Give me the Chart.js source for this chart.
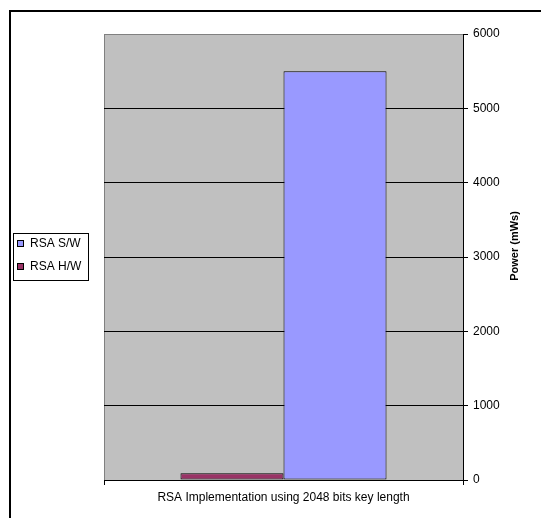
<!DOCTYPE html>
<html lang="en">
<head>
  <meta charset="utf-8">
  <title>RSA Power</title>
  <script src="https://cdn.jsdelivr.net/npm/chart.js@4.4.1/dist/chart.umd.min.js"></script>
  <style>
    html, body { margin: 0; padding: 0; background: #fff; }
    #wrap { width: 541px; height: 518px; }
  </style>
</head>
<body>
  <div id="wrap"><canvas id="powerChart" width="541" height="518"></canvas></div>
<script>
  const categories = ['RSA Implementation using 2048 bits key length'];
  const seriesNames = ['RSA H/W', 'RSA S/W'];
  const hwValues = [90];
  const swValues = [5500];
  const yTicks = [0, 1000, 2000, 3000, 4000, 5000, 6000];
  const yTitle = 'Power (mWs)';

  const FONT = "'Liberation Sans', Arial, sans-serif";

  // page frame, plot background
  const backdrop = {
    id: 'backdrop',
    beforeDraw(chart) {
      const ctx = chart.ctx;
      const a = chart.chartArea;
      ctx.save();
      ctx.fillStyle = '#fff';
      ctx.fillRect(0, 0, chart.width, chart.height);
      ctx.strokeStyle = '#000';
      ctx.lineWidth = 2;
      ctx.beginPath();
      ctx.moveTo(10, chart.height);
      ctx.lineTo(10, 11);
      ctx.lineTo(chart.width, 11);
      ctx.stroke();
      ctx.fillStyle = '#C0C0C0';
      ctx.fillRect(a.left, a.top, a.right - a.left, a.bottom - a.top);
      ctx.strokeStyle = '#808080';
      ctx.lineWidth = 1;
      ctx.beginPath();
      ctx.moveTo(a.left + 0.5, a.bottom);
      ctx.lineTo(a.left + 0.5, a.top + 0.5);
      ctx.lineTo(a.right, a.top + 0.5);
      ctx.stroke();
      ctx.restore();
    }
  };

  // boxed legend on the left, reversed like Excel
  const boxLegend = {
    id: 'boxLegend',
    afterDraw(chart) {
      const ctx = chart.ctx;
      const ds = chart.data.datasets;
      ctx.save();
      ctx.fillStyle = '#fff';
      ctx.fillRect(13.5, 233.5, 75, 47);
      ctx.strokeStyle = '#000';
      ctx.lineWidth = 1;
      ctx.strokeRect(13.5, 233.5, 75, 47);
      ctx.font = '12px ' + FONT;
      ctx.textBaseline = 'middle';
      ctx.textAlign = 'left';
      for (let i = ds.length - 1, row = 0; i >= 0; i--, row++) {
        const y = 240 + row * 23;
        ctx.fillStyle = ds[i].backgroundColor;
        ctx.fillRect(17.5, y + 0.5, 6, 6);
        ctx.strokeStyle = '#000';
        ctx.strokeRect(17.5, y + 0.5, 6, 6);
        ctx.fillStyle = '#000';
        ctx.fillText(ds[i].label, 30, y + 4);
      }
      ctx.restore();
    }
  };

  // y title reads bottom to top on the right axis
  const rightTitle = {
    id: 'rightTitle',
    afterDraw(chart) {
      const ctx = chart.ctx;
      const y = chart.scales.y;
      ctx.save();
      ctx.translate(y.right - 26, (chart.chartArea.top + chart.chartArea.bottom) / 2 - 11);
      ctx.rotate(-Math.PI / 2);
      ctx.font = 'bold 11px ' + FONT;
      ctx.fillStyle = '#000';
      ctx.textAlign = 'center';
      ctx.textBaseline = 'middle';
      ctx.fillText(yTitle, 0, 0);
      ctx.restore();
    }
  };

  const data = {
    labels: categories,
    datasets: [{
      label: seriesNames[0],
      data: hwValues,
      backgroundColor: '#993366',
      borderColor: '#000',
      borderWidth: 1,
      borderSkipped: false
    }, {
      label: seriesNames[1],
      data: swValues,
      backgroundColor: '#9999FF',
      borderColor: '#000',
      borderWidth: 1,
      borderSkipped: false
    }]
  };

  const config = {
    type: 'bar',
    data,
    options: {
      responsive: false,
      animation: false,
      layout: {
        padding: { left: 104, top: 34, right: 0, bottom: 0 }
      },
      datasets: {
        bar: {
          categoryPercentage: 0.574,
          barPercentage: 1
        }
      },
      plugins: {
        legend: { display: false },
        tooltip: { enabled: false }
      },
      scales: {
        x: {
          afterFit(scale) { scale.height = 38; },
          grid: {
            offset: true,
            drawOnChartArea: false,
            tickLength: 5,
            color: '#000'
          },
          border: { color: '#000', width: 1 },
          ticks: {
            color: '#000',
            padding: 5,
            maxRotation: 0,
            font: { family: FONT, size: 12 }
          }
        },
        y: {
          position: 'right',
          min: 0,
          max: 6000,
          afterFit(scale) { scale.width = 78; },
          afterBuildTicks(scale) {
            scale.ticks = yTicks.map(v => ({ value: v }));
          },
          grid: {
            tickLength: 5,
            color: ctx => (ctx.tick && ctx.tick.value === 6000) ? '#808080' : '#000',
            tickColor: '#000'
          },
          border: { color: '#000', width: 1 },
          ticks: {
            color: '#000',
            padding: 5,
            font: { family: FONT, size: 12 },
            callback: v => String(v)
          }
        }
      }
    },
    plugins: [backdrop, boxLegend, rightTitle]
  };

  let actualChart = new Chart(
    document.getElementById('powerChart'),
    config
  );
</script>
</body>
</html>
